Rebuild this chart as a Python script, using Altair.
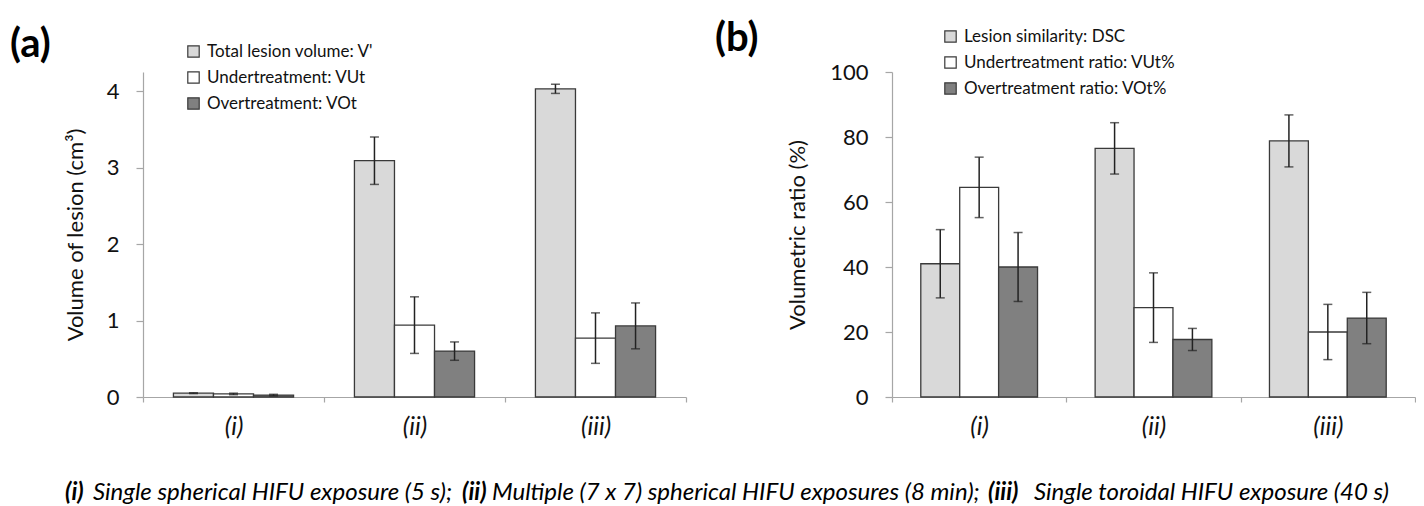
import altair as alt
import pandas as pd

FONT = "Lato"

groups = ["(i)", "(ii)", "(iii)"]

# Panel (a): volumes (cm^3)
series_a = ["Total lesion volume: V'", "Undertreatment: VUt", "Overtreatment: VOt"]
a_total = [0.05, 3.09, 4.03]
a_total_err = [0.005, 0.31, 0.06]
a_under = [0.04, 0.94, 0.77]
a_under_err = [0.01, 0.37, 0.33]
a_over = [0.025, 0.60, 0.93]
a_over_err = [0.01, 0.12, 0.30]

# Panel (b): volumetric ratios (%)
series_b = ["Lesion similarity: DSC", "Undertreatment ratio: VUt%", "Overtreatment ratio: VOt%"]
b_dsc = [41.0, 76.5, 78.8]
b_dsc_err = [10.5, 7.9, 8.0]
b_under = [64.5, 27.5, 20.0]
b_under_err = [9.3, 10.7, 8.5]
b_over = [40.0, 17.7, 24.3]
b_over_err = [10.6, 3.4, 7.9]

colors = ["#D9D9D9", "#FFFFFF", "#808080"]

panel_letters = ["(a)", "(b)"]

caption_text = ["(i)", "Single spherical HIFU exposure  (5 s);", "(ii)",
                "Multiple (7 x 7) spherical HIFU exposures  (8 min);", "(iii)",
                "Single toroidal HIFU exposure  (40 s)"]
caption_bold = [True, False, True, False, True, False]
caption_x = [65, 93, 462, 492, 988, 1034]  # page x of each segment start


def make_df(series, means, errs):
    rows = []
    for s, m, e in zip(series, means, errs):
        for g, v, ev in zip(groups, m, e):
            rows.append({"group": g, "series": s, "value": v, "lo": v - ev, "hi": v + ev})
    return pd.DataFrame(rows)


df_a = make_df(series_a, [a_total, a_under, a_over], [a_total_err, a_under_err, a_over_err])
df_b = make_df(series_b, [b_dsc, b_under, b_over], [b_dsc_err, b_under_err, b_over_err])

PLOT_H = 325
A_LEFT = 143


def panel(df, series, ymax, yvals, ytitle, title_x, leg_x, leg_y, letter, letter_x, letter_y, pad_outer):
    xenc = alt.X("group:N", sort=groups,
                 scale=alt.Scale(paddingInner=0, paddingOuter=0),
                 axis=alt.Axis(title=None, labelAngle=0, labelFont=FONT, labelFontSize=25,
                               labelFontStyle="italic", labelColor="#111",
                               labelPadding=12, tickBand="extent", tickSize=5,
                               domainColor="#A6A6A6", tickColor="#A6A6A6",
                               domainWidth=1.2, tickWidth=1.2))
    xoff = alt.XOffset("series:N", sort=series,
                       scale=alt.Scale(paddingInner=0, paddingOuter=pad_outer))
    base = alt.Chart(df).encode(x=xenc, xOffset=xoff)
    yscale = alt.Scale(domain=[0, ymax], nice=False, zero=True)
    bars = base.mark_bar(stroke="#3A3A3A", strokeWidth=1.3).encode(
        y=alt.Y("value:Q", scale=yscale,
                axis=alt.Axis(values=yvals, format="d", title=ytitle, grid=False, labelFont=FONT,
                              labelFontSize=22, labelColor="#111", labelPadding=17,
                              tickSize=7, domainColor="#A6A6A6", tickColor="#A6A6A6",
                              domainWidth=1.2, tickWidth=1.2,
                              titleFont=FONT, titleFontSize=22, titleFontWeight="normal",
                              titleColor="#111", titleX=title_x, titleY=PLOT_H / 2,
                              titleBaseline="middle", titleAngle=270)),
        color=alt.Color("series:N", sort=series,
                        scale=alt.Scale(domain=series, range=colors),
                        legend=alt.Legend(title=None, orient="none", legendX=leg_x, legendY=leg_y,
                                          symbolType="square", symbolSize=130,
                                          symbolStrokeColor="#3A3A3A", symbolStrokeWidth=1.2,
                                          symbolOpacity=1, labelFont=FONT, labelFontSize=17,
                                          labelLimit=400, labelColor="#111", rowPadding=8,
                                          labelOffset=5)),
    )
    rules = base.mark_rule(color="#222", strokeWidth=1.5).encode(
        y=alt.Y("lo:Q", scale=yscale), y2="hi:Q")
    cap_hi = base.mark_tick(color="#222", size=9, thickness=1.5).encode(y=alt.Y("hi:Q", scale=yscale))
    cap_lo = base.mark_tick(color="#222", size=9, thickness=1.5).encode(y=alt.Y("lo:Q", scale=yscale))
    lab = alt.Chart(pd.DataFrame({"t": [letter]})).mark_text(
        font=FONT, fontSize=40, fontWeight="bold", align="left", baseline="middle", color="#000"
    ).encode(text="t:N", x=alt.value(letter_x), y=alt.value(letter_y))
    return bars, rules, cap_hi, cap_lo, lab


pa = panel(df_a, series_a, 4.25, [0, 1, 2, 3, 4], "Volume of lesion (cm³)", -68,
           42, -29, panel_letters[0], -133, -27, 0.76)
pb = panel(df_b, series_b, 100, [0, 20, 40, 60, 80, 100], "Volumetric ratio (%)", -95,
           50, -44, panel_letters[1], -177, -33, 0.74)

cap_df = pd.DataFrame({"t": caption_text, "bold": caption_bold,
                       "px": [x - A_LEFT for x in caption_x]})
cap_reg = alt.Chart(cap_df[~cap_df["bold"]]).mark_text(
    font=FONT, fontSize=24, fontStyle="italic", align="left", baseline="middle", color="#000"
).encode(text="t:N", x=alt.X("px:Q", scale=None), y=alt.value(421))
cap_bold = alt.Chart(cap_df[cap_df["bold"]]).mark_text(
    font=FONT, fontSize=24, fontStyle="italic", fontWeight="bold", align="left",
    baseline="middle", color="#000"
).encode(text="t:N", x=alt.X("px:Q", scale=None), y=alt.value(421))

chart_a = alt.layer(*pa, cap_reg, cap_bold).properties(width=543, height=PLOT_H)
chart_b = alt.layer(*pb).properties(width=523, height=PLOT_H)

chart = alt.hconcat(chart_a, chart_b, spacing=206, bounds="flush").resolve_scale(
    color="independent", y="independent", x="independent", xOffset="independent"
).configure_view(stroke=None).properties(
    padding={"left": 2, "top": 11, "right": 0, "bottom": 0}, background="white"
)

chart.save("out.html", embed_options={"renderer": "svg", "actions": False})
